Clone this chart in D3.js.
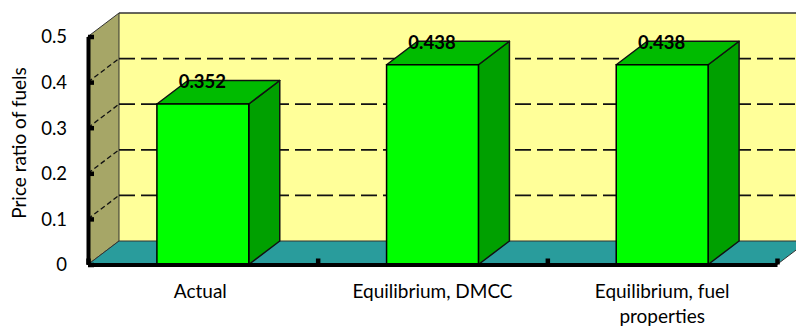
<!DOCTYPE html>
<html>
<head>
<meta charset="utf-8">
<script src="https://cdn.jsdelivr.net/npm/d3@7/dist/d3.min.js"></script>
<style>
html,body{margin:0;padding:0;background:#fff;overflow:hidden}
svg{display:block}
text{font-family:Lato,"Open Sans",sans-serif;fill:#000}
</style>
</head>
<body>
<svg id="chart" width="796" height="327"></svg>
<script>
// Chart values
const categories = ["Actual", "Equilibrium, DMCC", "Equilibrium, fuel properties"];
const priceRatio = [0.352, 0.438, 0.438];
const valueLabels = ["0.352", "0.438", "0.438"];
const yTicks = [0, 0.1, 0.2, 0.3, 0.4, 0.5];
const yTickLabels = ["0", "0.1", "0.2", "0.3", "0.4", "0.5"];
const gridValues = [0.1, 0.2, 0.3, 0.4];
const catLines = [["Actual"], ["Equilibrium, DMCC"], ["Equilibrium, fuel", "properties"]];
const yTitle = "Price ratio of fuels";

// Front plane of the 3D box and the depth offset to the back wall
const margin = {left: 88, right: 777, top: 36.5, bottom: 264.5};
const depth = {x: 31, y: -23.5};

const svg = d3.select("#chart");
const x = d3.scaleBand().domain(categories).range([margin.left, margin.right]).paddingInner(0.6).paddingOuter(0.3);
const y = d3.scaleLinear().domain([0, 0.5]).range([margin.bottom, margin.top]);
const poly = pts => pts.map(p => p.join(",")).join(" ");

const wallTop = y(0.5) + depth.y, wallBottom = y(0) + depth.y;
const backLeft = margin.left + depth.x, backRight = margin.right + depth.x;

// Back wall
svg.append("polygon").attr("points", poly([[backLeft, wallTop], [backRight, wallTop], [backRight, wallBottom], [backLeft, wallBottom]]))
  .attr("fill", "#ffff99").attr("stroke", "none");
svg.append("line").attr("x1", backLeft).attr("x2", backRight).attr("y1", wallTop).attr("y2", wallTop)
  .attr("stroke", "#333").attr("stroke-width", 1.5);

// Side wall
svg.append("polygon").attr("points", poly([[margin.left, y(0.5)], [backLeft, wallTop], [backLeft, wallBottom], [margin.left, y(0)]]))
  .attr("fill", "#a6a667").attr("stroke", "#333").attr("stroke-width", 1);

// Floor
svg.append("polygon").attr("points", poly([[margin.left, y(0)], [backLeft, wallBottom], [backRight, wallBottom], [margin.right, y(0)]]))
  .attr("fill", "#299c9c").attr("stroke", "#333").attr("stroke-width", 1);

// Dashed gridlines running along the side wall and the back wall
const grid = svg.append("g").attr("fill", "none").attr("stroke", "#111").attr("stroke-width", 1.8);
gridValues.forEach(v => {
  grid.append("line").attr("x1", margin.left).attr("y1", y(v)).attr("x2", backLeft).attr("y2", y(v) + depth.y)
    .attr("stroke-width", 1.3).attr("stroke-dasharray", "5,3");
  grid.append("line").attr("x1", backLeft).attr("y1", y(v) + depth.y).attr("x2", backRight).attr("y2", y(v) + depth.y)
    .attr("stroke-dasharray", "16,6");
});

// Bars as three-faced boxes
const bars = svg.append("g").selectAll("g").data(categories).join("g");
const barX = d => x(d), barW = x.bandwidth(), val = (d, i) => y(priceRatio[i]);
bars.append("polygon").attr("fill", "#00a000").attr("stroke", "#111").attr("stroke-width", 1.5)
  .attr("stroke-linejoin", "round")
  .attr("points", (d, i) => poly([[barX(d) + barW, val(d, i)], [barX(d) + barW + depth.x, val(d, i) + depth.y], [barX(d) + barW + depth.x, y(0) + depth.y], [barX(d) + barW, y(0)]]));
bars.append("polygon").attr("fill", "#00bb00").attr("stroke", "#111").attr("stroke-width", 1.5)
  .attr("stroke-linejoin", "round")
  .attr("points", (d, i) => poly([[barX(d), val(d, i)], [barX(d) + depth.x, val(d, i) + depth.y], [barX(d) + barW + depth.x, val(d, i) + depth.y], [barX(d) + barW, val(d, i)]]));
bars.append("rect").attr("fill", "#00ff00").attr("stroke", "#000").attr("stroke-width", 1.5)
  .attr("x", barX).attr("y", val).attr("width", barW).attr("height", (d, i) => y(0) - val(d, i));

// Value labels
bars.append("text").attr("x", d => x(d) + barW / 2 - 0.5).attr("y", (d, i) => val(d, i) - 16)
  .attr("text-anchor", "middle").attr("font-size", 18.5).attr("font-weight", 700)
  .text((d, i) => valueLabels[i]);

// Y axis with inward ticks
const yAxis = d3.axisLeft(y).tickValues(yTicks).tickFormat((d, i) => yTickLabels[i]).tickSizeInner(-6).tickSizeOuter(0).tickPadding(21);
const yG = svg.append("g").attr("transform", `translate(${margin.left},0)`).call(yAxis);
yG.select(".domain").attr("stroke", "#000").attr("stroke-width", 4);
yG.selectAll(".tick line").attr("stroke", "#000").attr("stroke-width", 4.5);
yG.selectAll(".tick text").attr("font-size", 18.5).attr("font-family", "Lato").attr("fill", "#000").attr("dy", "0.35em");

// X axis: a thick baseline with ticks at the category boundaries
const xEdges = d3.scaleLinear().domain([0, 3]).range([margin.left, margin.right]);
const xAxis = d3.axisBottom(xEdges).tickValues([0, 1, 2, 3]).tickFormat("").tickSizeInner(-6).tickSizeOuter(0);
const xG = svg.append("g").attr("transform", `translate(0,${margin.bottom})`).call(xAxis);
xG.select(".domain").attr("stroke", "#000").attr("stroke-width", 4);
xG.selectAll(".tick line").attr("stroke", "#000").attr("stroke-width", 4.5);

// Category labels, with the long one wrapped onto two lines
const catG = svg.append("g").attr("text-anchor", "middle");
categories.forEach((c, i) => {
  catLines[i].forEach((line, j) => {
    catG.append("text").attr("x", x(c) + barW / 2 - (i === 0 ? 2.5 : 0)).attr("y", 298 + j * 25).attr("font-size", 19).text(line);
  });
});

// Y axis title
svg.append("text").attr("transform", "translate(26,143) rotate(-90)").attr("text-anchor", "middle")
  .attr("font-size", 19).text(yTitle);
</script>
</body>
</html>
